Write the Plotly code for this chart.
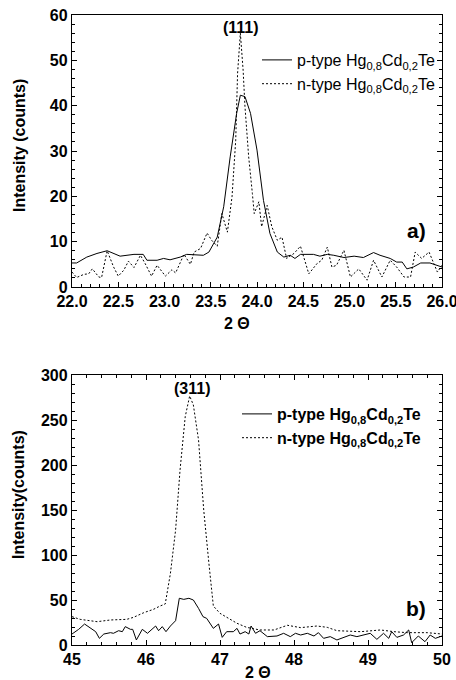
import plotly.graph_objects as go

# ---- Panel a) (111) reflection ----
a_p_x = [22.0, 22.05, 22.16, 22.27, 22.38, 22.45, 22.52, 22.67, 22.77, 22.81, 22.92, 22.99, 23.06,
         23.17, 23.24, 23.42, 23.48, 23.57, 23.64, 23.71, 23.78, 23.82, 23.87, 23.93, 24.0, 24.07,
         24.14, 24.22, 24.29, 24.36, 24.41, 24.47, 24.61, 24.68, 24.76, 24.83, 24.94, 25.05, 25.15,
         25.26, 25.33, 25.44, 25.51, 25.57, 25.62, 25.69, 25.77, 25.87, 25.95, 26.0]
a_p_y = [5.3, 5.3, 6.6, 7.4, 8.0, 7.4, 6.8, 7.2, 7.2, 5.9, 5.9, 6.3, 6.0,
         6.6, 7.2, 7.0, 7.7, 11.0, 17.7, 28.7, 38.3, 42.3, 42.0, 38.3, 30.2, 19.1,
         11.8, 7.7, 6.6, 7.0, 6.3, 7.2, 7.2, 6.8, 7.2, 7.0, 6.5, 6.8, 6.5,
         7.6, 7.0, 6.3, 5.5, 5.5, 4.0, 4.4, 5.3, 5.3, 4.8, 4.4]

a_n_x = [22.0, 22.05, 22.13, 22.18, 22.22, 22.29, 22.32, 22.38, 22.45, 22.50, 22.56, 22.61, 22.67,
         22.74, 22.79, 22.86, 22.92, 23.01, 23.08, 23.12, 23.21, 23.28, 23.32, 23.39, 23.46, 23.51,
         23.57, 23.62, 23.68, 23.73, 23.77, 23.79, 23.82, 23.85, 23.87, 23.91, 23.95, 23.97, 24.02,
         24.05, 24.11, 24.16, 24.22, 24.27, 24.32, 24.40, 24.47, 24.56, 24.65, 24.70, 24.76, 24.81,
         24.86, 24.94, 25.01, 25.10, 25.19, 25.26, 25.35, 25.44, 25.51, 25.59, 25.66, 25.71, 25.78,
         25.86, 25.95, 26.0]
a_n_y = [3.3, 2.1, 2.8, 2.9, 4.0, 2.2, 2.1, 8.0, 4.4, 2.4, 3.7, 5.7, 4.3,
         7.0, 5.2, 2.4, 4.8, 2.4, 3.8, 3.1, 7.2, 5.0, 7.7, 8.5, 11.9, 10.3,
         9.0, 16.2, 12.1, 19.9, 32.4, 47.1, 56.0, 47.8, 39.8, 28.7, 20.6, 16.2, 18.8,
         13.3, 18.0, 13.3, 10.3, 11.0, 6.3, 7.4, 9.0, 2.9, 5.2, 5.9, 8.8, 4.4,
         4.8, 8.1, 2.2, 4.0, 1.5, 5.9, 2.2, 5.9, 4.4, 2.2, 2.2, 7.7, 6.3,
         7.7, 3.3, 4.8]

# ---- Panel b) (311) reflection ----
b_p_x = [45.0, 45.09, 45.17, 45.25, 45.32, 45.37, 45.43, 45.52, 45.56, 45.63, 45.68, 45.72, 45.79,
         45.82, 45.87, 45.95, 46.02, 46.13, 46.17, 46.22, 46.27, 46.33, 46.40, 46.45, 46.51, 46.58,
         46.64, 46.71, 46.77, 46.82, 46.87, 46.91, 46.98, 47.03, 47.09, 47.18, 47.23, 47.27, 47.34,
         47.39, 47.42, 47.48, 47.54, 47.64, 47.77, 47.86, 47.95, 48.02, 48.09, 48.18, 48.27, 48.33,
         48.40, 48.49, 48.58, 48.67, 48.76, 48.85, 48.94, 49.03, 49.12, 49.21, 49.28, 49.32, 49.39,
         49.48, 49.55, 49.59, 49.68, 49.77, 49.84, 49.91, 50.0]
b_p_y = [12.2, 17.4, 23.3, 18.5, 14.8, 7.4, 12.2, 13.7, 13.0, 15.9, 14.8, 20.4, 17.4,
         17.4, 5.6, 17.4, 13.0, 21.1, 15.9, 20.4, 14.8, 21.1, 27.0, 51.9, 50.7, 51.9,
         50.0, 40.7, 31.5, 29.6, 23.3, 18.5, 23.3, 8.5, 14.8, 14.8, 18.5, 12.2, 14.8,
         12.2, 21.1, 13.0, 15.9, 9.3, 10.0, 13.0, 9.3, 13.0, 11.1, 13.0, 10.0, 13.7,
         7.4, 9.3, 5.6, 8.5, 11.1, 9.3, 11.1, 13.0, 6.3, 13.0, 7.4, 14.8, 8.5,
         11.1, 16.7, 2.6, 10.0, 3.7, 11.1, 7.4, 10.0]

b_n_x = [45.0, 45.11, 45.34, 45.52, 45.74, 45.83, 45.97, 46.10, 46.19, 46.26, 46.33, 46.40, 46.46,
         46.53, 46.59, 46.64, 46.71, 46.78, 46.85, 46.91, 47.0, 47.09, 47.23, 47.36, 47.54, 47.73,
         47.91, 48.09, 48.31, 48.45, 48.58, 48.90, 49.17, 49.35, 49.53, 49.80, 50.0]
b_n_y = [31.5, 28.5, 25.9, 27.8, 28.5, 30.7, 35.9, 39.6, 43.3, 45.6, 79.6, 127.8, 194.4,
         253.7, 276.7, 266.7, 227.8, 150.0, 90.7, 43.3, 35.2, 30.7, 24.1, 19.6, 16.7, 16.7,
         21.9, 19.3, 21.1, 19.6, 15.9, 14.8, 16.7, 14.8, 13.7, 13.7, 12.2]

p_label = "p-type Hg<sub>0,8</sub>Cd<sub>0,2</sub>Te"
n_label = "n-type Hg<sub>0,8</sub>Cd<sub>0,2</sub>Te"
p_label_b = "<b>p-type Hg<sub>0,8</sub>Cd<sub>0,2</sub>Te</b>"
n_label_b = "<b>n-type Hg<sub>0,8</sub>Cd<sub>0,2</sub>Te</b>"

FONT = "Liberation Sans, Arial, sans-serif"
W, H = 456, 680

fig = go.Figure()
fig.add_trace(go.Scatter(x=a_p_x, y=a_p_y, mode="lines", name=p_label,
                         line=dict(color="black", width=1), xaxis="x", yaxis="y", legend="legend"))
fig.add_trace(go.Scatter(x=a_n_x, y=a_n_y, mode="lines", name=n_label,
                         line=dict(color="black", width=1, dash="2px,2px"), xaxis="x", yaxis="y",
                         legend="legend"))
fig.add_trace(go.Scatter(x=b_p_x, y=b_p_y, mode="lines", name=p_label_b,
                         line=dict(color="black", width=1), xaxis="x2", yaxis="y2", legend="legend2"))
fig.add_trace(go.Scatter(x=b_n_x, y=b_n_y, mode="lines", name=n_label_b,
                         line=dict(color="black", width=1, dash="2px,2px"), xaxis="x2", yaxis="y2",
                         legend="legend2"))

def px_x(p):
    return p / W

def px_y(p):
    return 1 - p / H

tickfont = dict(family=FONT, size=16, color="black", weight="bold")
common = dict(showline=True, linecolor="black", linewidth=1.3, ticks="inside", ticklen=5,
              tickwidth=1, tickcolor="black", showgrid=False, zeroline=False, tickfont=tickfont,
              automargin=False, ticklabeloverflow="allow")

fig.update_layout(
    width=W, height=H, margin=dict(l=0, r=0, t=0, b=0, autoexpand=False),
    paper_bgcolor="white", plot_bgcolor="white",
    font=dict(family=FONT, color="black"),
    xaxis=dict(domain=[px_x(72), px_x(442)], anchor="y", range=[22, 26], dtick=0.5, tick0=22,
               tickformat=".1f", mirror=True,
               minor=dict(dtick=0.1, ticks="inside", ticklen=3, tickcolor="black"), **common),
    yaxis=dict(domain=[px_y(287), px_y(15)], anchor="x", range=[0, 60], dtick=10, mirror="ticks",
               minor=dict(dtick=2, ticks="inside", ticklen=3, tickcolor="black"), **common),
    xaxis2=dict(domain=[px_x(72), px_x(442)], anchor="y2", range=[45, 50], dtick=1, mirror="ticks",
                minor=dict(dtick=0.2, ticks="inside", ticklen=3, tickcolor="black"), **common),
    yaxis2=dict(domain=[px_y(645), px_y(375)], anchor="x2", range=[0, 300], dtick=50, mirror="ticks",
                minor=dict(dtick=10, ticks="inside", ticklen=3, tickcolor="black"), **common),
    legend=dict(x=px_x(257), y=px_y(43), xanchor="left", yanchor="top", bgcolor="rgba(0,0,0,0)",
                font=dict(family=FONT, size=16, color="black"), tracegroupgap=0, itemwidth=30),
    legend2=dict(x=px_x(237), y=px_y(397), xanchor="left", yanchor="top", bgcolor="rgba(0,0,0,0)",
                 font=dict(family=FONT, size=16, color="black"), tracegroupgap=0, itemwidth=30),
    showlegend=True,
)

ann_font_b = dict(family=FONT, size=16, color="black", weight="bold")
fig.add_annotation(text="Intensity (counts)", x=px_x(19), y=px_y(146), xref="paper", yref="paper",
                   xanchor="center", yanchor="middle",
                   textangle=-90, showarrow=False, font=ann_font_b)
fig.add_annotation(text="Intensity(counts)", x=px_x(18), y=px_y(495), xref="paper", yref="paper",
                   xanchor="center", yanchor="middle",
                   textangle=-90, showarrow=False, font=ann_font_b)
fig.add_annotation(text="2 Θ", x=px_x(237), y=px_y(323), xref="paper", yref="paper",
                   xanchor="center", yanchor="middle", showarrow=False, font=ann_font_b)
fig.add_annotation(text="2 Θ", x=px_x(258), y=px_y(672), xref="paper", yref="paper",
                   xanchor="center", yanchor="middle", showarrow=False, font=ann_font_b)
fig.add_annotation(text="(111)", x=23.83, y=57.3, xref="x", yref="y", showarrow=False,
                   font=ann_font_b)
fig.add_annotation(text="(311)", x=46.62, y=285, xref="x2", yref="y2", showarrow=False,
                   font=ann_font_b)
fig.add_annotation(text="a)", x=25.72, y=12.5, xref="x", yref="y", showarrow=False,
                   font=dict(family=FONT, size=21, color="black", weight="bold"))
fig.add_annotation(text="b)", x=49.65, y=40.5, xref="x2", yref="y2", showarrow=False,
                   font=dict(family=FONT, size=21, color="black", weight="bold"))

fig.write_html("out.html", config={"displayModeBar": False},
               post_script="document.body.style.margin='0px';")
